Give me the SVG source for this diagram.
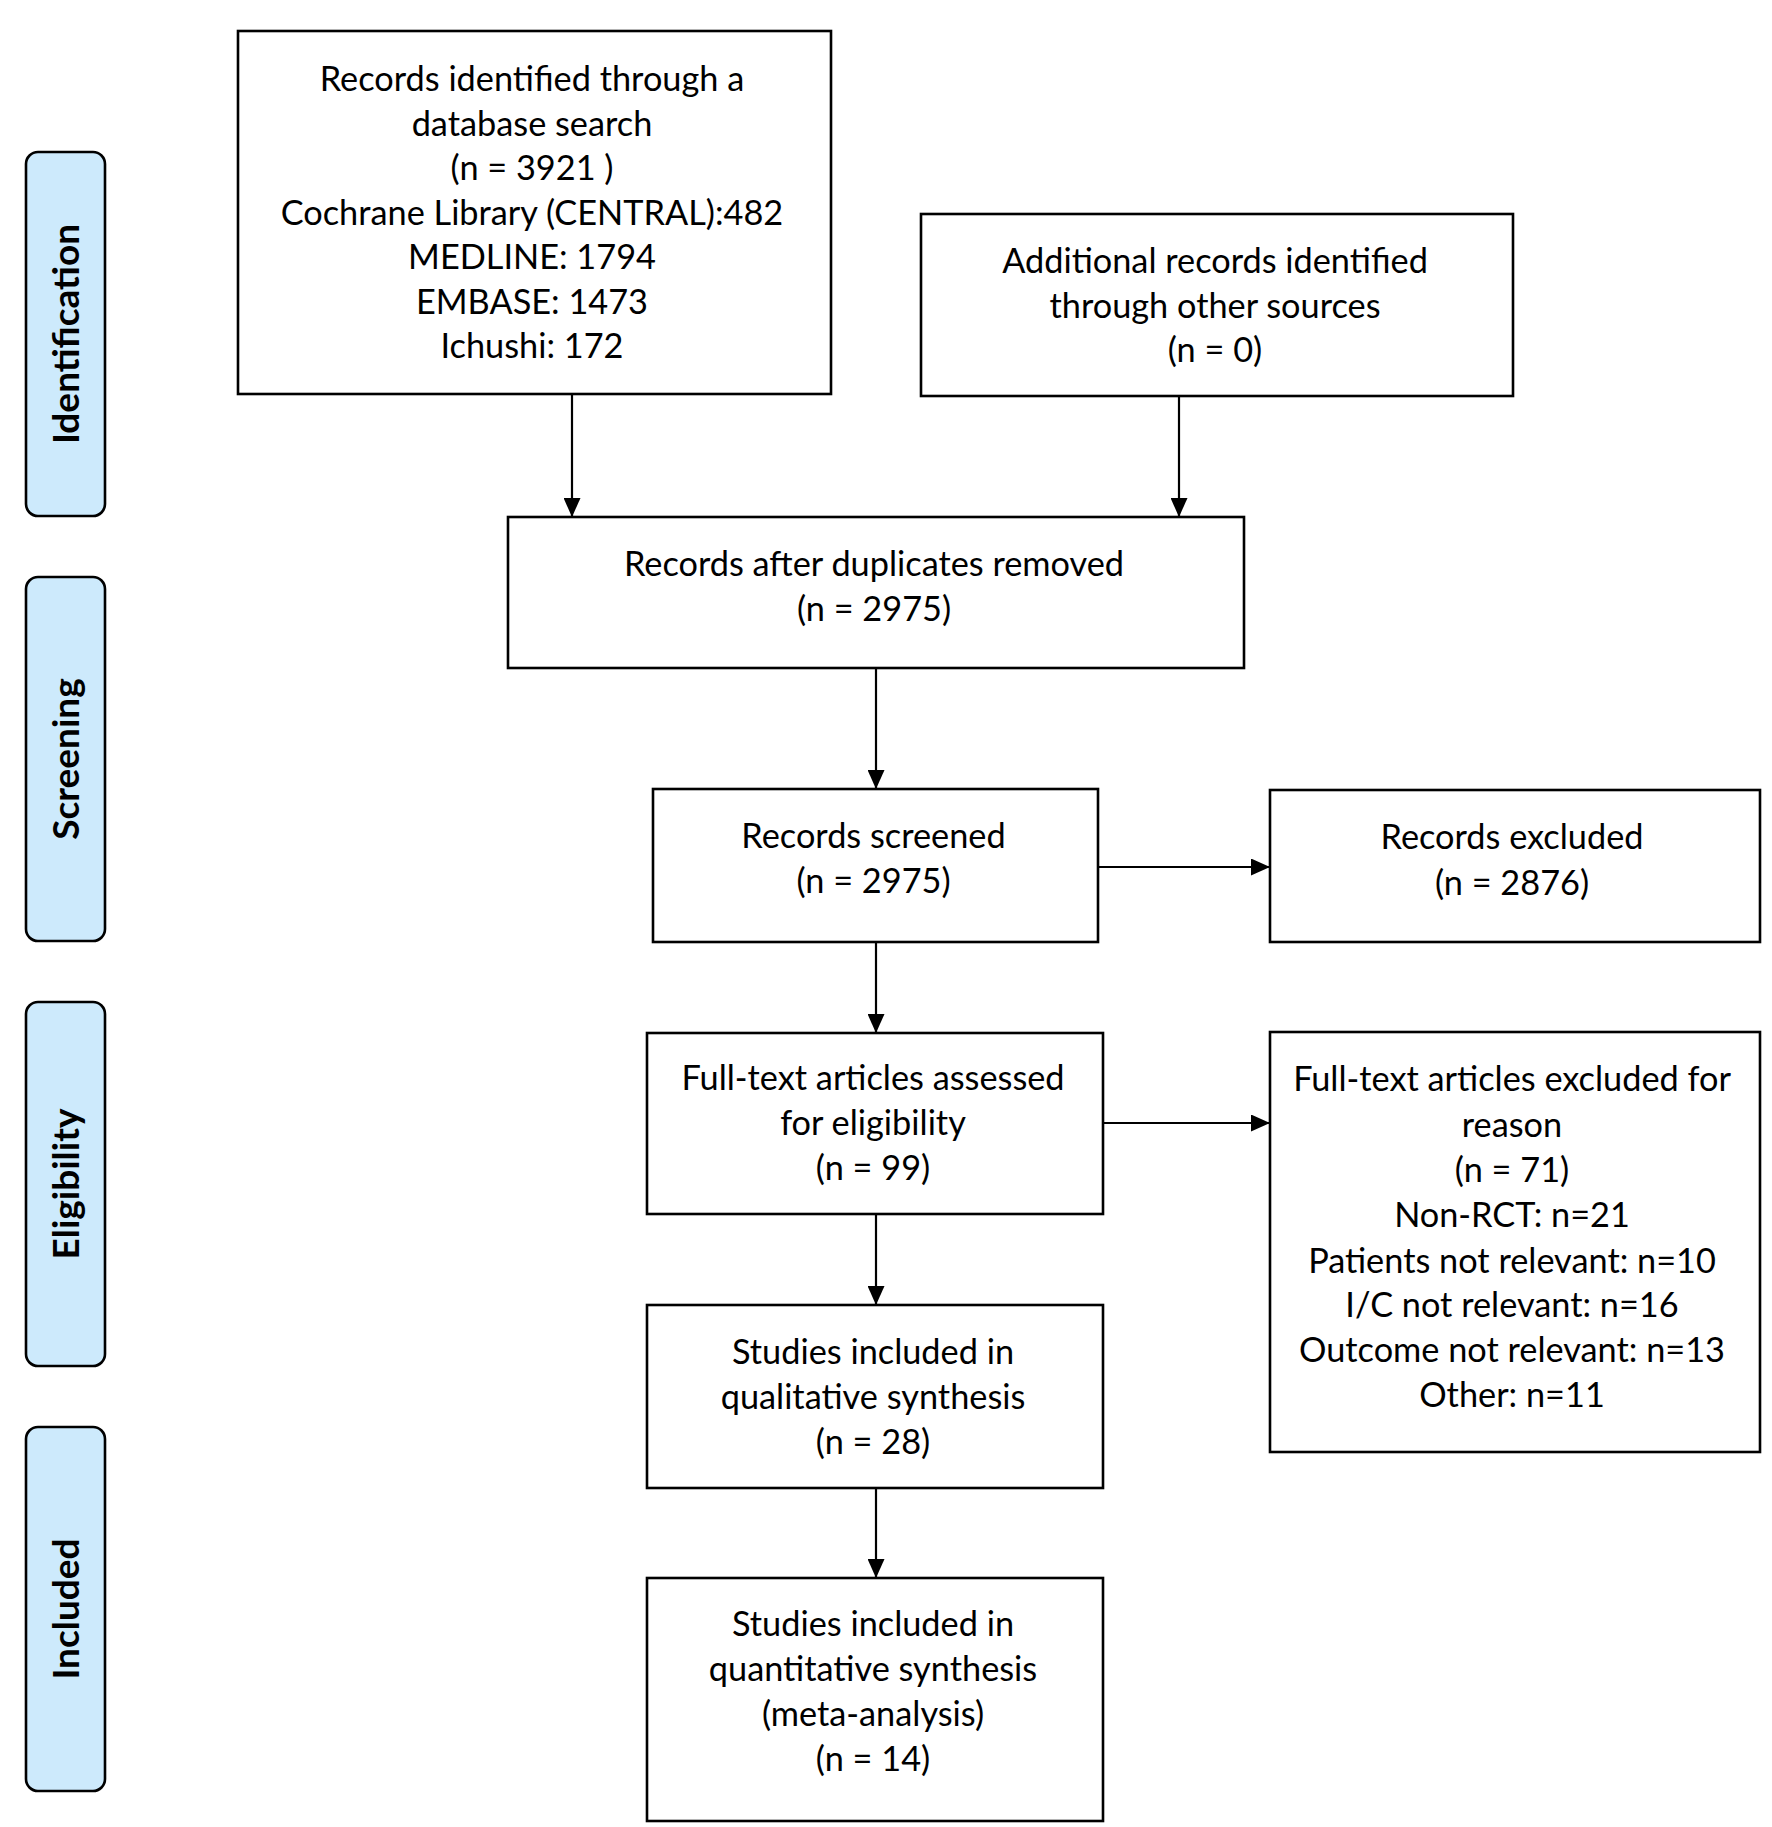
<svg xmlns="http://www.w3.org/2000/svg" width="1772" height="1827" viewBox="0 0 1772 1827">
<style>
.box{fill:#fff;stroke:#000;stroke-width:2.6}
.side{fill:#cdeafc;stroke:#000;stroke-width:2.6}
.t{font-family:Lato,"Liberation Sans",sans-serif;font-size:34.3px;fill:#000;text-anchor:middle}
.s{font-family:Lato,"Liberation Sans",sans-serif;font-size:37px;font-weight:bold;fill:#000;text-anchor:middle}
.c{fill:none;stroke:#000;stroke-width:2.2}
</style>
<defs>
<marker id="ah" markerUnits="userSpaceOnUse" markerWidth="19" markerHeight="17" refX="19" refY="8.5" orient="auto">
<path d="M0,0 L19,8.5 L0,17 z" fill="#000"/>
</marker>
</defs>
<rect width="1772" height="1827" fill="#fff"/>
<g id="phase-identification">
<rect class="side" x="26" y="152" width="79" height="364" rx="12"/>
<text class="s" transform="translate(79,334) rotate(-90)">Identification</text>
</g>
<g id="phase-screening">
<rect class="side" x="26" y="577" width="79" height="364" rx="12"/>
<text class="s" transform="translate(79,759) rotate(-90)">Screening</text>
</g>
<g id="phase-eligibility">
<rect class="side" x="26" y="1002" width="79" height="364" rx="12"/>
<text class="s" transform="translate(79,1184) rotate(-90)">Eligibility</text>
</g>
<g id="phase-included">
<rect class="side" x="26" y="1427" width="79" height="364" rx="12"/>
<text class="s" transform="translate(79,1609) rotate(-90)">Included</text>
</g>
<g id="connectors">
<path class="c" d="M572,395 V517" marker-end="url(#ah)"/>
<path class="c" d="M1179,396 V517" marker-end="url(#ah)"/>
<path class="c" d="M876,668 V789" marker-end="url(#ah)"/>
<path class="c" d="M1098,867 H1270" marker-end="url(#ah)"/>
<path class="c" d="M876,942 V1033" marker-end="url(#ah)"/>
<path class="c" d="M1103,1123 H1270" marker-end="url(#ah)"/>
<path class="c" d="M876,1214 V1305" marker-end="url(#ah)"/>
<path class="c" d="M876,1488 V1578" marker-end="url(#ah)"/>
</g>
<g id="node-database">
<rect class="box" x="238" y="31" width="593" height="363"/>
<text class="t" x="532" y="91">Records identified through a</text>
<text class="t" x="532" y="135.5">database search</text>
<text class="t" x="532" y="180">(n = 3921 )</text>
<text class="t" x="532" y="224.5">Cochrane Library (CENTRAL):482</text>
<text class="t" x="532" y="269">MEDLINE: 1794</text>
<text class="t" x="532" y="313.5">EMBASE: 1473</text>
<text class="t" x="532" y="358">Ichushi: 172</text>
</g>
<g id="node-other-sources">
<rect class="box" x="921" y="214" width="592" height="182"/>
<text class="t" x="1215" y="273">Additional records identified</text>
<text class="t" x="1215" y="318">through other sources</text>
<text class="t" x="1215" y="362">(n = 0)</text>
</g>
<g id="node-duplicates">
<rect class="box" x="508" y="517" width="736" height="151"/>
<text class="t" x="874" y="576">Records after duplicates removed</text>
<text class="t" x="874" y="621">(n = 2975)</text>
</g>
<g id="node-screened">
<rect class="box" x="653" y="789" width="445" height="153"/>
<text class="t" x="873.5" y="848">Records screened</text>
<text class="t" x="873.5" y="893">(n = 2975)</text>
</g>
<g id="node-excluded">
<rect class="box" x="1270" y="790" width="490" height="152"/>
<text class="t" x="1512" y="849">Records excluded</text>
<text class="t" x="1512" y="895">(n = 2876)</text>
</g>
<g id="node-fulltext">
<rect class="box" x="647" y="1033" width="456" height="181"/>
<text class="t" x="873" y="1090">Full-text articles assessed</text>
<text class="t" x="873" y="1135">for eligibility</text>
<text class="t" x="873" y="1180">(n = 99)</text>
</g>
<g id="node-fulltext-excluded">
<rect class="box" x="1270" y="1032" width="490" height="420"/>
<text class="t" x="1512" y="1091">Full-text articles excluded for</text>
<text class="t" x="1512" y="1137">reason</text>
<text class="t" x="1512" y="1182">(n = 71)</text>
<text class="t" x="1512" y="1227">Non-RCT: n=21</text>
<text class="t" x="1512" y="1273">Patients not relevant: n=10</text>
<text class="t" x="1512" y="1317">I/C not relevant: n=16</text>
<text class="t" x="1512" y="1362">Outcome not relevant: n=13</text>
<text class="t" x="1512" y="1407">Other: n=11</text>
</g>
<g id="node-qualitative">
<rect class="box" x="647" y="1305" width="456" height="183"/>
<text class="t" x="873" y="1364">Studies included in</text>
<text class="t" x="873" y="1409">qualitative synthesis</text>
<text class="t" x="873" y="1454">(n = 28)</text>
</g>
<g id="node-quantitative">
<rect class="box" x="647" y="1578" width="456" height="243"/>
<text class="t" x="873" y="1636">Studies included in</text>
<text class="t" x="873" y="1681">quantitative synthesis</text>
<text class="t" x="873" y="1726">(meta-analysis)</text>
<text class="t" x="873" y="1771">(n = 14)</text>
</g>
</svg>
